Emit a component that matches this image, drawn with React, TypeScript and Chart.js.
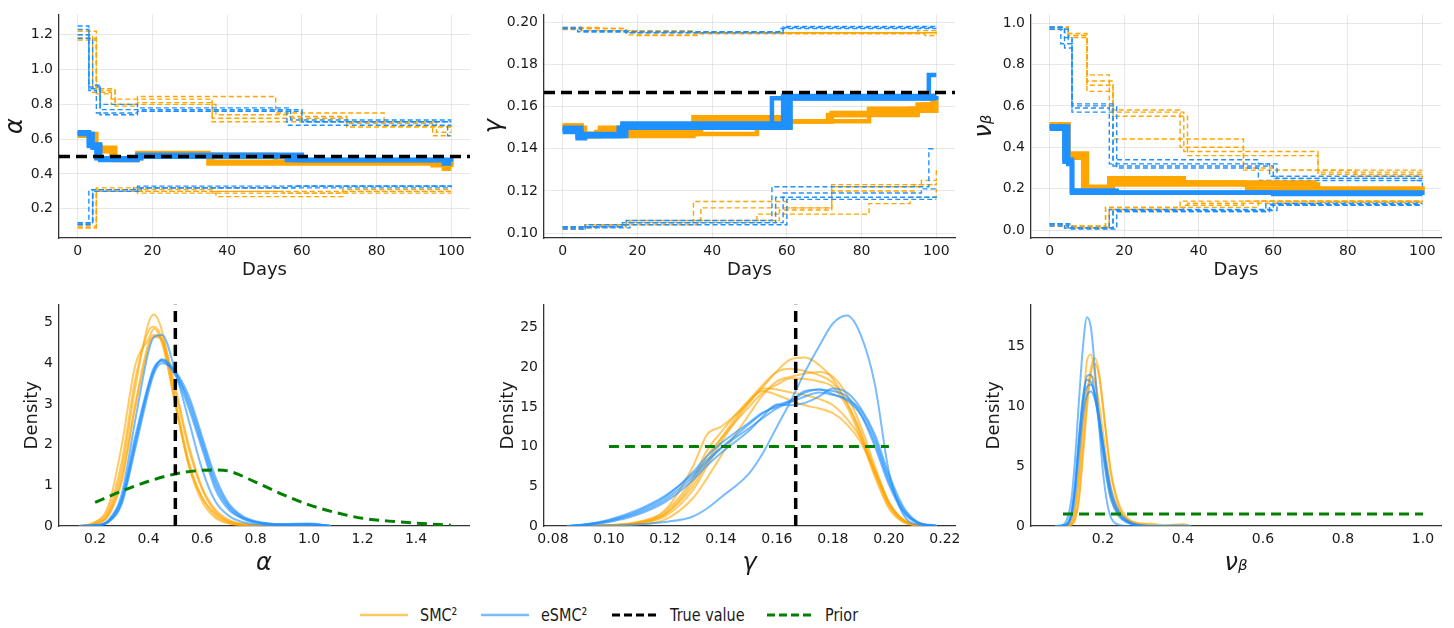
import React, { useEffect, useRef } from "react";
import { Chart, registerables } from "chart.js";
Chart.register(...registerables);

// ---------------- DATA ----------------
// Step traces: each run is a list of [day, value] change points
const dayTicks = [0, 20, 40, 60, 80, 100];

const alphaTrue = 0.5;
const gammaTrue = 0.1667;

const alphaSmcHigh = [
  [[0, 1.22], [5, 0.88], [10, 0.80], [16, 0.845], [53, 0.75], [82, 0.675], [100, 0.67]],
  [[0, 1.20], [4, 0.87], [9, 0.83], [16, 0.83], [36, 0.72], [72, 0.69], [95, 0.62], [100, 0.62]],
  [[0, 1.18], [5, 0.89], [10, 0.79], [16, 0.81], [36, 0.70], [72, 0.67], [100, 0.65]],
  [[0, 1.17], [5, 0.86], [9, 0.80], [16, 0.80], [37, 0.74], [56, 0.73], [72, 0.70], [96, 0.64], [100, 0.64]],
];
const alphaSmcMean = [
  [[0, 0.63], [4, 0.57], [6, 0.54], [10, 0.48], [16, 0.51], [36, 0.47], [72, 0.47], [95, 0.45], [100, 0.44]],
  [[0, 0.62], [4, 0.56], [6, 0.53], [9, 0.49], [16, 0.52], [35, 0.46], [100, 0.45]],
  [[0, 0.63], [5, 0.55], [10, 0.49], [17, 0.51], [53, 0.47], [98, 0.43], [100, 0.43]],
];
const alphaSmcLow = [
  [[0, 0.09], [5, 0.32], [16, 0.30], [36, 0.29], [72, 0.30], [100, 0.30]],
  [[0, 0.10], [5, 0.31], [16, 0.29], [37, 0.27], [71, 0.31], [100, 0.31]],
  [[0, 0.11], [4, 0.31], [17, 0.30], [55, 0.29], [100, 0.29]],
  [[0, 0.09], [5, 0.30], [16, 0.31], [36, 0.30], [96, 0.30], [100, 0.29]],
];
const alphaEsmcHigh = [
  [[0, 1.25], [3, 0.90], [6, 0.80], [16, 0.78], [57, 0.71], [100, 0.71]],
  [[0, 1.23], [3, 0.89], [6, 0.77], [60, 0.70], [100, 0.70]],
  [[0, 1.20], [3, 0.88], [5, 0.75], [16, 0.76], [56, 0.68], [100, 0.68]],
  [[0, 1.18], [4, 0.91], [6, 0.74], [16, 0.76], [60, 0.70], [97, 0.70], [99, 0.62], [100, 0.62]],
];
const alphaEsmcMean = [
  [[0, 0.64], [3, 0.56], [6, 0.48], [16, 0.50], [58, 0.48], [100, 0.48]],
  [[0, 0.63], [4, 0.55], [5, 0.49], [16, 0.51], [60, 0.48], [98, 0.46], [100, 0.46]],
  [[0, 0.64], [3, 0.57], [6, 0.49], [17, 0.50], [56, 0.48], [100, 0.47]],
];
const alphaEsmcLow = [
  [[0, 0.12], [4, 0.30], [16, 0.32], [58, 0.33], [100, 0.33]],
  [[0, 0.11], [3, 0.31], [16, 0.33], [100, 0.32]],
  [[0, 0.12], [4, 0.30], [17, 0.32], [60, 0.32], [100, 0.32]],
  [[0, 0.11], [4, 0.31], [15, 0.32], [56, 0.33], [100, 0.33]],
];
const alphaYTicks = [0.2, 0.4, 0.6, 0.8, 1.0, 1.2];

const gammaSmcHigh = [
  [[0, 0.197], [17, 0.194], [36, 0.195], [100, 0.1955]],
  [[0, 0.1975], [10, 0.196], [35, 0.195], [95, 0.196], [100, 0.196]],
  [[0, 0.197], [17, 0.195], [58, 0.195], [100, 0.1955]],
  [[0, 0.1965], [5, 0.196], [20, 0.1937], [36, 0.1945], [97, 0.1937], [100, 0.1945]],
];
const gammaSmcMean = [
  [[0, 0.151], [5, 0.146], [10, 0.150], [17, 0.148], [35, 0.155], [59, 0.153], [72, 0.157], [93, 0.159], [99, 0.165], [100, 0.165]],
  [[0, 0.150], [5, 0.147], [9, 0.148], [16, 0.147], [36, 0.153], [72, 0.156], [82, 0.159], [97, 0.161], [100, 0.161]],
  [[0, 0.151], [5, 0.146], [10, 0.149], [17, 0.146], [35, 0.147], [52, 0.153], [82, 0.158], [100, 0.160]],
  [[0, 0.150], [6, 0.147], [17, 0.149], [37, 0.155], [59, 0.153], [71, 0.156], [95, 0.161], [100, 0.163]],
];
const gammaSmcLow = [
  [[0, 0.102], [6, 0.103], [17, 0.105], [35, 0.115], [60, 0.112], [72, 0.122], [96, 0.125], [100, 0.13]],
  [[0, 0.1025], [9, 0.104], [18, 0.106], [37, 0.112], [72, 0.120], [94, 0.123], [100, 0.124]],
  [[0, 0.103], [10, 0.104], [17, 0.105], [52, 0.109], [82, 0.114], [93, 0.117], [100, 0.121]],
  [[0, 0.102], [6, 0.104], [36, 0.106], [58, 0.111], [72, 0.123], [100, 0.123]],
];
const gammaEsmcHigh = [
  [[0, 0.1975], [5, 0.196], [17, 0.195], [59, 0.1975], [100, 0.1975]],
  [[0, 0.197], [4, 0.1955], [59, 0.198], [100, 0.198]],
  [[0, 0.197], [5, 0.1955], [58, 0.197], [100, 0.197]],
];
const gammaEsmcMean = [
  [[0, 0.149], [4, 0.145], [6, 0.147], [16, 0.151], [56, 0.164], [98, 0.175], [100, 0.175]],
  [[0, 0.150], [5, 0.146], [16, 0.152], [59, 0.165], [100, 0.165]],
  [[0, 0.149], [4, 0.146], [17, 0.151], [60, 0.164], [100, 0.164]],
  [[0, 0.148], [5, 0.146], [15, 0.150], [61, 0.164], [100, 0.163]],
];
const gammaEsmcLow = [
  [[0, 0.103], [5, 0.102], [6, 0.104], [17, 0.106], [56, 0.122], [97, 0.122], [98, 0.14], [100, 0.14]],
  [[0, 0.102], [6, 0.103], [16, 0.105], [59, 0.119], [96, 0.121], [100, 0.121]],
  [[0, 0.103], [16, 0.104], [60, 0.116], [100, 0.116]],
  [[0, 0.1025], [18, 0.105], [57, 0.117], [100, 0.118]],
];
const gammaYTicks = [0.10, 0.12, 0.14, 0.16, 0.18, 0.20];

const nuSmcHigh = [
  [[0, 0.98], [5, 0.94], [10, 0.75], [16, 0.58], [35, 0.40], [52, 0.29], [100, 0.29]],
  [[0, 0.98], [4, 0.95], [10, 0.72], [17, 0.57], [36, 0.38], [72, 0.28], [100, 0.27]],
  [[0, 0.97], [5, 0.93], [10, 0.70], [17, 0.55], [37, 0.36], [72, 0.27], [100, 0.26]],
  [[0, 0.98], [5, 0.94], [10, 0.67], [17, 0.44], [52, 0.30], [60, 0.29], [82, 0.26], [100, 0.25]],
];
const nuSmcMean = [
  [[0, 0.51], [5, 0.37], [10, 0.20], [16, 0.25], [36, 0.23], [52, 0.22], [72, 0.19], [100, 0.19]],
  [[0, 0.51], [5, 0.36], [10, 0.21], [17, 0.22], [53, 0.20], [100, 0.19]],
  [[0, 0.50], [4, 0.35], [9, 0.20], [16, 0.24], [35, 0.23], [71, 0.20], [100, 0.19]],
];
const nuSmcLow = [
  [[0, 0.03], [5, 0.02], [15, 0.11], [35, 0.14], [100, 0.14]],
  [[0, 0.02], [4, 0.01], [16, 0.10], [36, 0.12], [52, 0.14], [100, 0.135]],
  [[0, 0.03], [5, 0.02], [15, 0.11], [37, 0.13], [72, 0.135], [100, 0.13]],
  [[0, 0.025], [6, 0.015], [16, 0.10], [35, 0.11], [56, 0.14], [100, 0.14]],
];
const nuEsmcHigh = [
  [[0, 0.98], [4, 0.93], [6, 0.61], [17, 0.34], [56, 0.32], [61, 0.25], [100, 0.25]],
  [[0, 0.97], [3, 0.90], [6, 0.59], [16, 0.32], [59, 0.26], [100, 0.26]],
  [[0, 0.98], [4, 0.88], [6, 0.57], [17, 0.31], [60, 0.25], [98, 0.24], [100, 0.21]],
  [[0, 0.97], [5, 0.92], [6, 0.60], [18, 0.30], [56, 0.24], [100, 0.24]],
];
const nuEsmcMean = [
  [[0, 0.50], [4, 0.33], [6, 0.19], [17, 0.18], [100, 0.18]],
  [[0, 0.49], [4, 0.34], [6, 0.18], [100, 0.17]],
  [[0, 0.50], [5, 0.32], [6, 0.19], [18, 0.18], [60, 0.175], [100, 0.175]],
];
const nuEsmcLow = [
  [[0, 0.03], [5, 0.01], [17, 0.09], [59, 0.12], [100, 0.12]],
  [[0, 0.03], [4, 0.01], [16, 0.10], [60, 0.13], [100, 0.13]],
  [[0, 0.02], [5, 0.005], [18, 0.09], [58, 0.125], [100, 0.125]],
  [[0, 0.03], [6, 0.01], [17, 0.095], [61, 0.12], [100, 0.12]],
];
const nuYTicks = [0.0, 0.2, 0.4, 0.6, 0.8, 1.0];

// Posterior densities (values on a shared grid per parameter)
const alphaGrid = [0.14, 0.2, 0.25, 0.3, 0.35, 0.4, 0.42, 0.45, 0.5, 0.55, 0.6, 0.65, 0.7, 0.75, 0.8, 0.9, 1.0, 1.08];
const alphaSmcDens = [
  [0, 0.05, 0.3, 1.4, 3.4, 5.0, 5.2, 4.8, 3.1, 1.6, 0.7, 0.25, 0.08, 0.02, 0, 0, 0, 0],
  [0, 0.08, 0.4, 1.6, 3.6, 4.8, 4.9, 4.6, 3.0, 1.5, 0.7, 0.3, 0.1, 0.03, 0.01, 0, 0, 0],
  [0, 0.1, 0.5, 2.0, 3.95, 4.6, 4.85, 4.5, 3.0, 1.5, 0.6, 0.2, 0.06, 0.02, 0, 0, 0, 0],
  [0, 0.06, 0.3, 1.2, 3.0, 4.5, 4.7, 4.55, 3.3, 1.9, 0.9, 0.35, 0.12, 0.05, 0.02, 0, 0, 0],
  [0, 0.05, 0.25, 1.1, 2.9, 4.4, 4.65, 4.6, 3.4, 2.0, 0.95, 0.4, 0.15, 0.05, 0.02, 0.01, 0, 0],
];
const alphaEsmcDens = [
  [0, 0.02, 0.15, 0.8, 2.6, 4.3, 4.65, 4.7, 3.8, 2.6, 1.4, 0.6, 0.25, 0.1, 0.04, 0.01, 0.02, 0],
  [0, 0.01, 0.1, 0.6, 2.0, 3.4, 3.8, 4.1, 3.8, 3.0, 2.0, 1.0, 0.45, 0.18, 0.08, 0.02, 0.05, 0],
  [0, 0.01, 0.12, 0.7, 2.2, 3.5, 3.9, 4.05, 3.7, 2.9, 1.9, 0.9, 0.4, 0.2, 0.1, 0.03, 0.03, 0],
  [0, 0.02, 0.12, 0.65, 2.1, 3.45, 3.85, 4.08, 3.75, 3.1, 2.1, 1.1, 0.5, 0.22, 0.1, 0.04, 0.04, 0.01],
  [0, 0.01, 0.1, 0.55, 1.9, 3.3, 3.75, 4.0, 3.8, 3.2, 2.2, 1.2, 0.55, 0.25, 0.12, 0.05, 0.06, 0],
];
const alphaPriorX = [0.2, 0.3, 0.4, 0.5, 0.6, 0.65, 0.7, 0.8, 0.9, 1.0, 1.1, 1.2, 1.3, 1.4, 1.53];
const alphaPriorY = [0.58, 0.86, 1.1, 1.28, 1.37, 1.38, 1.35, 1.08, 0.78, 0.52, 0.33, 0.19, 0.12, 0.07, 0.02];
const alphaDensXTicks = [0.2, 0.4, 0.6, 0.8, 1.0, 1.2, 1.4];
const alphaDensYTicks = [0, 1, 2, 3, 4, 5];

const gammaGrid = [0.085, 0.09, 0.1, 0.11, 0.12, 0.13, 0.135, 0.14, 0.15, 0.155, 0.16, 0.165, 0.17, 0.175, 0.18, 0.185, 0.19, 0.195, 0.2, 0.205, 0.21, 0.217];
const gammaSmcDens = [
  [0, 0, 0.05, 0.3, 1.2, 4.5, 7.5, 10.5, 15.5, 17.5, 19.5, 21, 21.2, 20.3, 18.5, 15.5, 11.5, 6.5, 2.5, 0.6, 0.1, 0],
  [0, 0, 0.1, 0.4, 1.5, 5.0, 8.0, 11.0, 15.8, 17.8, 19.4, 19.8, 19.5, 19.0, 18.0, 15.5, 11.8, 7.0, 2.8, 0.7, 0.1, 0],
  [0, 0, 0.05, 0.2, 0.8, 3.5, 6.0, 8.8, 14.0, 16.5, 18.2, 18.8, 19.2, 19.4, 18.8, 16.5, 12.5, 7.5, 3.0, 0.8, 0.1, 0],
  [0, 0, 0.1, 0.5, 2.0, 7.5, 11.5, 12.5, 15.5, 17.3, 17.2, 16.8, 16.5, 16.0, 15.2, 13.5, 11.0, 7.0, 3.0, 0.8, 0.15, 0],
  [0, 0, 0.1, 0.4, 1.8, 6.0, 9.5, 11.8, 15.8, 17.0, 16.5, 15.8, 15.2, 14.8, 14.2, 12.8, 10.5, 6.8, 2.8, 0.8, 0.1, 0],
  [0, 0, 0.05, 0.3, 1.5, 5.5, 8.8, 11.0, 15.0, 16.8, 17.8, 18.6, 18.5, 18.2, 17.5, 15.0, 11.0, 6.2, 2.2, 0.5, 0.1, 0],
];
const gammaEsmcDens = [
  [0, 0, 0.05, 0.2, 0.5, 1.2, 2.2, 3.6, 6.6, 9.2, 12.5, 15.8, 19.4, 22.6, 25.5, 26.5, 24, 17.8, 6.8, 1.5, 0.2, 0],
  [0, 0.1, 0.6, 1.6, 3.3, 6.2, 8.0, 9.8, 12.8, 14.2, 15.2, 15.8, 16.8, 17.2, 17.0, 16.3, 14.0, 10.0, 5.2, 1.8, 0.4, 0],
  [0, 0.15, 0.8, 2.0, 3.8, 6.5, 8.3, 9.8, 12.3, 13.6, 14.8, 15.6, 16.3, 16.8, 16.5, 16.0, 14.5, 11.0, 6.0, 2.2, 0.5, 0],
  [0, 0.1, 0.5, 1.4, 3.0, 5.8, 7.6, 9.2, 12.0, 13.8, 15.3, 15.2, 15.5, 16.3, 17.3, 16.8, 14.8, 11.5, 6.5, 2.5, 0.6, 0.05],
  [0, 0.12, 0.7, 1.8, 3.6, 6.8, 8.8, 10.4, 13.0, 14.3, 15.0, 15.8, 17.0, 17.2, 16.6, 15.8, 14.0, 10.5, 5.6, 2.0, 0.45, 0],
];
const gammaPriorX = [0.1, 0.2];
const gammaPriorY = [10, 10];
const gammaDensXTicks = [0.08, 0.10, 0.12, 0.14, 0.16, 0.18, 0.20, 0.22];
const gammaDensYTicks = [0, 5, 10, 15, 20, 25];

const nuGrid = [0.08, 0.1, 0.12, 0.13, 0.14, 0.15, 0.16, 0.17, 0.18, 0.19, 0.2, 0.21, 0.22, 0.24, 0.26, 0.28, 0.3, 0.32, 0.35, 0.4, 0.42];
const nuSmcDens = [
  [0, 0, 0.2, 1.2, 4.5, 9.5, 13.8, 14.3, 12.5, 9.5, 6.5, 4.0, 2.3, 0.9, 0.4, 0.2, 0.15, 0.2, 0.05, 0.15, 0],
  [0, 0, 0.1, 0.6, 2.5, 6.5, 10.5, 13.2, 14.0, 12.8, 10.0, 7.0, 4.5, 1.8, 0.7, 0.25, 0.1, 0.05, 0.02, 0.05, 0],
  [0, 0, 0.1, 0.5, 2.2, 5.8, 9.8, 12.8, 13.5, 12.5, 10.0, 7.0, 4.3, 1.6, 0.5, 0.2, 0.05, 0, 0, 0, 0],
  [0, 0, 0.3, 1.5, 4.0, 8.0, 11.2, 12.5, 12.0, 10.2, 7.8, 5.2, 3.2, 1.3, 0.6, 0.3, 0.2, 0.1, 0.05, 0.1, 0],
];
const nuEsmcDens = [
  [0, 0.1, 2, 5.5, 10.5, 15, 17.4, 16.5, 13, 8.5, 4.5, 2, 0.7, 0.1, 0, 0, 0, 0, 0, 0, 0],
  [0, 0, 0.8, 3.0, 7.0, 10.5, 12.5, 12.6, 11.0, 8.5, 6.0, 3.8, 2.2, 0.8, 0.3, 0.1, 0, 0, 0, 0, 0],
  [0, 0.05, 1.0, 3.5, 7.5, 10.8, 12.2, 12.0, 10.8, 8.8, 6.5, 4.2, 2.5, 1.0, 0.4, 0.1, 0, 0, 0, 0, 0],
  [0, 0, 0.6, 2.5, 6.0, 9.2, 10.9, 11.2, 10.5, 9.0, 7.0, 4.8, 3.0, 1.2, 0.5, 0.15, 0.05, 0, 0, 0, 0],
  [0, 0.05, 0.9, 3.2, 7.0, 10.2, 11.6, 11.8, 10.9, 9.2, 6.8, 4.5, 2.7, 1.0, 0.35, 0.1, 0, 0, 0, 0, 0],
];
const nuPriorX = [0.1, 1.0];
const nuPriorY = [1, 1];
const nuDensXTicks = [0.2, 0.4, 0.6, 0.8, 1.0];
const nuDensYTicks = [0, 5, 10, 15];

// ---------------- STYLE ----------------
const FONT = "'DejaVu Sans', 'Liberation Sans', sans-serif";
const ORANGE = "#FFA500";
const BLUE = "#1E90FF";
const ORANGE_A = "rgba(255,165,0,0.6)";
const BLUE_A = "rgba(30,144,255,0.6)";
const GREEN = "#008000";
const GRID = "rgba(0,0,0,0.09)";
const AXIS = "#333333";
const TEXT = "#1a1a1a";

type Pt = number[];

const stepSets = (runs: Pt[][], color: string, mean: boolean) =>
  runs.map((run) => ({
    data: run.map(([x, y]) => ({ x, y })),
    borderColor: color,
    borderWidth: mean ? 4.5 : 1.4,
    borderDash: mean ? [] : [5, 3],
    stepped: true,
    pointRadius: 0,
    fill: false,
  }));

const densSets = (grid: number[], curves: number[][], color: string) =>
  curves.map((ys) => ({
    data: ys.map((y, i) => ({ x: grid[i], y })),
    borderColor: color,
    borderWidth: 2,
    cubicInterpolationMode: "monotone",
    pointRadius: 0,
    fill: false,
  }));

const lineSet = (xs: number[], ys: number[], color: string, width: number, dash: number[]) => ({
  data: xs.map((x, i) => ({ x, y: ys[i] })),
  borderColor: color,
  borderWidth: width,
  borderDash: dash,
  pointRadius: 0,
  tension: 0.4,
  cubicInterpolationMode: "monotone",
  fill: false,
});

interface Spec {
  datasets: any[];
  xMin: number; xMax: number; yMin: number; yMax: number;
  xTicks: number[]; yTicks: number[];
  xFmt: (v: number) => string; yFmt: (v: number) => string;
  xTitle: string; yTitle: string;
  xTitleFont: any; yTitleFont: any;
  xTitlePad: number; yTitlePad: number;
  grid: boolean;
  yAxisWidth: number; xAxisHeight: number;
  padding: any;
}

function buildConfig(p: Spec): any {
  const tickFont = { family: FONT, size: 14 };
  return {
    type: "line",
    data: { datasets: p.datasets },
    options: {
      animation: false,
      responsive: false,
      devicePixelRatio: 1,
      events: [],
      layout: { padding: p.padding },
      plugins: { legend: { display: false }, tooltip: { enabled: false } },
      scales: {
        x: {
          type: "linear",
          min: p.xMin,
          max: p.xMax,
          afterBuildTicks: (s: any) => { s.ticks = p.xTicks.map((v) => ({ value: v })); },
          afterFit: (s: any) => { s.height = p.xAxisHeight; },
          ticks: { callback: (v: number) => p.xFmt(v), font: tickFont, color: TEXT, padding: 5, maxRotation: 0, autoSkip: false },
          grid: { display: p.grid, color: GRID, lineWidth: 1, drawTicks: false },
          border: { display: true, color: AXIS, width: 1.3 },
          title: { display: true, text: p.xTitle, font: p.xTitleFont, color: TEXT, padding: { top: 0, bottom: p.xTitlePad } },
        },
        y: {
          type: "linear",
          min: p.yMin,
          max: p.yMax,
          afterBuildTicks: (s: any) => { s.ticks = p.yTicks.map((v) => ({ value: v })); },
          afterFit: (s: any) => { s.width = p.yAxisWidth; },
          ticks: { callback: (v: number) => p.yFmt(v), font: tickFont, color: TEXT, padding: 6, autoSkip: false },
          grid: { display: p.grid, color: GRID, lineWidth: 1, drawTicks: false },
          border: { display: true, color: AXIS, width: 1.3 },
          title: { display: true, text: p.yTitle, font: p.yTitleFont, color: TEXT, padding: { top: p.yTitlePad, bottom: 0 } },
        },
      },
    },
  };
}

const f0 = (v: number) => String(Math.round(v));
const f1 = (v: number) => v.toFixed(1);
const f2 = (v: number) => v.toFixed(2);
const greekFont = { family: FONT, size: 24, style: "italic" };
const daysFont = { family: FONT, size: 18 };
const densFont = { family: FONT, size: 18 };

const topX = { xMin: -5, xMax: 105 };

function traceSpec(
  trueVal: number | null,
  smcMean: Pt[][], smcLow: Pt[][], smcHigh: Pt[][],
  esmcMean: Pt[][], esmcLow: Pt[][], esmcHigh: Pt[][],
  yMin: number, yMax: number, yTicks: number[], yFmt: (v: number) => string,
  yTitle: string, yTitlePad: number, yAxisWidth: number, padRight: number
): Spec {
  const ds: any[] = [];
  if (trueVal !== null) ds.push(lineSet([topX.xMin, topX.xMax], [trueVal, trueVal], "#000", 3.5, [11, 6]));
  ds.push(...stepSets(esmcMean, BLUE, true));
  ds.push(...stepSets(smcMean, ORANGE, true));
  ds.push(...stepSets(esmcHigh, BLUE, false), ...stepSets(esmcLow, BLUE, false));
  ds.push(...stepSets(smcHigh, ORANGE, false), ...stepSets(smcLow, ORANGE, false));
  return {
    datasets: ds,
    ...topX, yMin, yMax,
    xTicks: dayTicks, yTicks, xFmt: f0, yFmt,
    xTitle: "Days", yTitle, xTitleFont: daysFont, yTitleFont: greekFont,
    xTitlePad: 9, yTitlePad,
    grid: true, yAxisWidth, xAxisHeight: 52,
    padding: { left: 0, top: 8, right: padRight, bottom: 0 },
  };
}

function densSpec(
  grid: number[], smc: number[][], esmc: number[][],
  priorX: number[], priorY: number[], trueVal: number | null,
  xMin: number, xMax: number, yMax: number,
  xTicks: number[], yTicks: number[], xFmt: (v: number) => string,
  xTitle: string, yTitlePad: number, yAxisWidth: number, padRight: number
): Spec {
  const ds: any[] = [];
  if (trueVal !== null) ds.push(lineSet([trueVal, trueVal], [0, yMax], "#000", 3.5, [11, 6]));
  ds.push(lineSet(priorX, priorY, GREEN, 3, [10, 6]));
  ds.push(...densSets(grid, esmc, BLUE_A));
  ds.push(...densSets(grid, smc, ORANGE_A));
  return {
    datasets: ds,
    xMin, xMax, yMin: 0, yMax,
    xTicks, yTicks, xFmt, yFmt: f0,
    xTitle, yTitle: "Density", xTitleFont: greekFont, yTitleFont: densFont,
    xTitlePad: 2, yTitlePad,
    grid: false, yAxisWidth, xAxisHeight: 54,
    padding: { left: 0, top: 7, right: padRight, bottom: 0 },
  };
}

const panels = [
  { left: 0, top: 0, width: 480, height: 290,
    spec: () => traceSpec(alphaTrue, alphaSmcMean, alphaSmcLow, alphaSmcHigh, alphaEsmcMean, alphaEsmcLow, alphaEsmcHigh,
      0.032, 1.317, alphaYTicks, f1, "α", 1, 59, 10) },
  { left: 480, top: 0, width: 490, height: 290,
    spec: () => traceSpec(gammaTrue, gammaSmcMean, gammaSmcLow, gammaSmcHigh, gammaEsmcMean, gammaEsmcLow, gammaEsmcHigh,
      0.0977, 0.2037, gammaYTicks, f2, "γ", 0, 64, 15) },
  { left: 960, top: 0, width: 494, height: 290,
    spec: () => traceSpec(null, nuSmcMean, nuSmcLow, nuSmcHigh, nuEsmcMean, nuEsmcLow, nuEsmcHigh,
      -0.038, 1.042, nuYTicks, f1, "νᵦ", 10, 71, 13) },
  { left: 0, top: 290, width: 480, height: 290,
    spec: () => densSpec(alphaGrid, alphaSmcDens, alphaEsmcDens, alphaPriorX, alphaPriorY, alphaTrue,
      0.065, 1.598, 5.45, alphaDensXTicks, alphaDensYTicks, f1, "α", 22, 59, 11) },
  { left: 480, top: 290, width: 490, height: 290,
    spec: () => densSpec(gammaGrid, gammaSmcDens, gammaEsmcDens, gammaPriorX, gammaPriorY, gammaTrue,
      0.0768, 0.2236, 27.9, gammaDensXTicks, gammaDensYTicks, f2, "γ", 18, 64, 15) },
  { left: 960, top: 290, width: 494, height: 290,
    spec: () => densSpec(nuGrid, nuSmcDens, nuEsmcDens, nuPriorX, nuPriorY, null,
      0.02, 1.045, 18.47, nuDensXTicks, nuDensYTicks, f1, "νᵦ", 24, 71, 13) },
];

function Panel({ left, top, width, height, spec }: any) {
  const ref = useRef<HTMLCanvasElement>(null);
  useEffect(() => {
    const chart = new Chart(ref.current as HTMLCanvasElement, buildConfig(spec()));
    return () => chart.destroy();
  }, []);
  return (
    <canvas ref={ref} width={width} height={height}
      style={{ position: "absolute", left, top, width, height }} />
  );
}

const legendItems = [
  { label: "SMC²", color: ORANGE_A, dash: "", width: 2.5, lineX: 360, textX: 420 },
  { label: "eSMC²", color: BLUE_A, dash: "", width: 2.5, lineX: 481, textX: 541 },
  { label: "True value", color: "#000", dash: "8 4", width: 3, lineX: 612, textX: 670 },
  { label: "Prior", color: GREEN, dash: "8 4", width: 3, lineX: 767, textX: 825 },
];

export default function App() {
  return (
    <div style={{ position: "absolute", left: 0, top: 0, width: 1454, height: 628, background: "#fff", overflow: "hidden" }}>
      {panels.map((p, i) => <Panel key={i} {...p} />)}
      {legendItems.map((it, i) => (
        <React.Fragment key={i}>
          <svg style={{ position: "absolute", left: it.lineX, top: 609 }} width={48} height={12}>
            <line x1={0} y1={6} x2={48} y2={6} stroke={it.color} strokeWidth={it.width} strokeDasharray={it.dash} />
          </svg>
          <span style={{ position: "absolute", left: it.textX, top: 603, fontFamily: FONT, fontSize: 18, color: TEXT,
            whiteSpace: "nowrap", display: "inline-block", transform: "scaleX(0.8)", transformOrigin: "left center", lineHeight: "24px" }}>
            {it.label}
          </span>
        </React.Fragment>
      ))}
    </div>
  );
}
